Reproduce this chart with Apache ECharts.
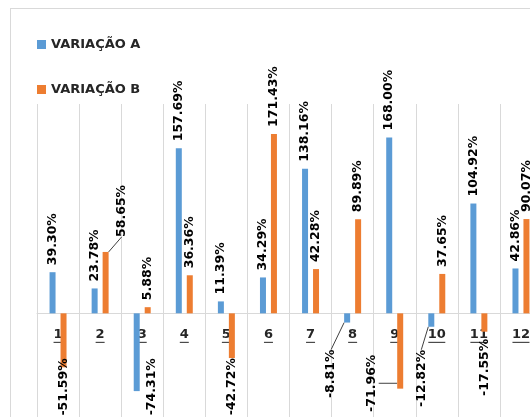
<!DOCTYPE html>
<html>
<head>
<meta charset="utf-8">
<script src="https://cdn.jsdelivr.net/npm/echarts@6/dist/echarts.min.js"></script>
<style>
  html, body { margin: 0; padding: 0; background: #fff; overflow: hidden; width: 530px; height: 417px; }
  #frame { position: absolute; left: 10px; top: 8px; width: 580px; height: 480px; border: 1px solid #d9d9d9; background: #fff; }
  #chart { width: 580px; height: 480px; }
</style>
</head>
<body>
<div id="frame"><div id="chart"></div></div>
<script>
// Month index on the category axis
const categories = ['1', '2', '3', '4', '5', '6', '7', '8', '9', '10', '11', '12'];
// Percentage change for each series
const variacaoA = [39.30, 23.78, -74.31, 157.69, 11.39, 34.29, 138.16, -8.81, 168.00, -12.82, 104.92, 42.86];
const variacaoB = [-51.59, 58.65, 5.88, 36.36, -42.72, 171.43, 42.28, 89.89, -71.96, 37.65, -17.55, 90.07];
const seriesNames = ['VARIAÇÃO A', 'VARIAÇÃO B'];

// Value axis range
const yMin = -100;
const yMax = 200;

// Hand placement of a few crowded value labels: screen shift [right, down] in px,
// plus whether a leader line is drawn back to the bar
const labelNudge = {
  0: { 2: [15, -40], 7: [-16, 20, true], 9: [-10, 16, true] },
  1: { 0: [0, -16], 1: [16, -8, true], 4: [0, -7], 8: [-28, -41, true] }
};

const labelFont = { fontFamily: 'DejaVu Sans', fontWeight: 'bold', fontSize: 12.5, color: '#000' };
const axisTextColor = '#262626';

function buildData(values, seriesIdx) {
  return values.map((v, i) => {
    const item = { value: v };
    if (v < 0) {
      item.label = { position: 'bottom', align: 'right' };
    }
    const nudge = labelNudge[seriesIdx][i];
    if (nudge && nudge[2]) {
      item.labelLine = { show: true };
    }
    return item;
  });
}

function barSeries(name, values, seriesIdx, color) {
  return {
    name: name,
    type: 'bar',
    barWidth: 6,
    barGap: '83%',
    itemStyle: { color: color },
    data: buildData(values, seriesIdx),
    label: Object.assign({
      show: true,
      position: 'top',
      distance: 7,
      rotate: 90,
      align: 'left',
      verticalAlign: 'middle',
      formatter: p => p.value.toFixed(2) + '%'
    }, labelFont),
    labelLine: { show: false, lineStyle: { color: '#404040', width: 1 } },
    labelLayout: function (params) {
      const nudge = labelNudge[params.seriesIndex][params.dataIndex];
      if (!nudge) return {};
      // the label is turned 90°, so its own x runs up the screen and its y runs right
      return { dx: -nudge[1], dy: nudge[0] };
    }
  };
}

const chart = echarts.init(document.getElementById('chart'), null, { renderer: 'canvas' });

chart.setOption({
  animation: false,
  backgroundColor: '#fff',
  legend: {
    orient: 'vertical',
    left: 21,
    top: 24,
    itemWidth: 9,
    itemHeight: 9,
    itemGap: 32,
    icon: 'rect',
    data: seriesNames,
    textStyle: { fontFamily: 'DejaVu Sans', fontWeight: 'bold', fontSize: 13, color: axisTextColor }
  },
  grid: { left: 26, top: 95, width: 505, height: 314, containLabel: false },
  xAxis: {
    type: 'category',
    data: categories,
    offset: 0,
    axisLine: { show: true, onZero: false, lineStyle: { color: '#d9d9d9', width: 1 } },
    axisTick: { show: false },
    splitLine: { show: true, lineStyle: { color: '#d9d9d9', width: 1 } },
    axisLabel: {
      show: true,
      interval: 0,
      margin: 14,
      color: axisTextColor,
      fontFamily: 'DejaVu Sans',
      fontWeight: 'bold',
      fontSize: 13,
      formatter: v => '{t|' + v + '}\n{u' + String(v).length + '| }',
      rich: {
        t: { fontFamily: 'DejaVu Sans', fontWeight: 'bold', fontSize: 13, color: axisTextColor, lineHeight: 14, align: 'center' },
        u1: { width: 9, height: 1, lineHeight: 2, fontSize: 1, backgroundColor: axisTextColor, align: 'center' },
        u2: { width: 17, height: 1, lineHeight: 2, fontSize: 1, backgroundColor: axisTextColor, align: 'center' }
      }
    }
  },
  yAxis: {
    type: 'value',
    min: yMin,
    max: yMax,
    interval: 50,
    axisLine: { show: false },
    axisTick: { show: false },
    axisLabel: { show: false },
    splitLine: { show: false }
  },
  series: [
    barSeries(seriesNames[0], variacaoA, 0, '#5B9BD5'),
    barSeries(seriesNames[1], variacaoB, 1, '#ED7D31')
  ]
});

// Lift the category axis (line and labels) from the grid floor up to the zero level
const zeroY = chart.convertToPixel({ yAxisIndex: 0 }, 0);
const floorY = chart.convertToPixel({ yAxisIndex: 0 }, yMin);
chart.setOption({ xAxis: { offset: zeroY - floorY } });
</script>
</body>
</html>
